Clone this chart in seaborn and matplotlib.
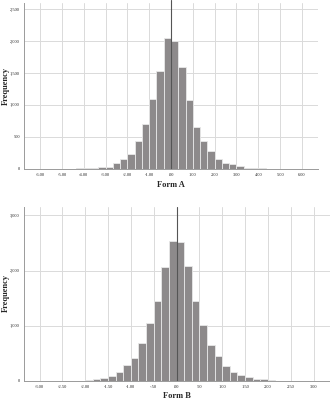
import numpy as np
import pandas as pd
import seaborn as sns
import matplotlib.pyplot as plt
from matplotlib.ticker import FuncFormatter

# Form A: bin width 1/3, counts (centre outward)
a_left = [2046, 1535, 1093, 694, 436, 226, 142, 88, 30, 28, 15, 6, 2]
a_right = [1997, 1587, 1073, 651, 426, 278, 147, 84, 63, 32, 12, 5, 2]
a_width = 1 / 3

# Form B: bin width 1/6
b_left = [2537, 2056, 1452, 1043, 682, 410, 289, 163, 96, 48, 30, 18, 8, 3]
b_right = [2508, 2085, 1447, 1013, 651, 447, 266, 168, 103, 78, 36, 30, 12, 5]
b_width = 1 / 6

a_ticks = [-6, -5, -4, -3, -2, -1, 0, 1, 2, 3, 4, 5, 6]
b_ticks = [-3, -2.5, -2, -1.5, -1, -0.5, 0, 0.5, 1, 1.5, 2, 2.5, 3]


def make_df(left, right, w):
    counts = list(reversed(left)) + list(right)
    n = len(left)
    edges = [(i - n) * w for i in range(len(counts) + 1)]
    centers = [(edges[i] + edges[i + 1]) / 2 for i in range(len(counts))]
    return pd.DataFrame({"x": centers, "n": counts}), edges


def fmt_x(v, pos):
    s = f"{v:.2f}"
    if s.startswith("-0"):
        s = "-" + s[2:]
    elif s.startswith("0"):
        s = s[1:]
    return s


sns.set_theme(style="whitegrid")
plt.rcParams['font.family'] = ['Liberation Serif', 'DejaVu Serif']

fig = plt.figure(figsize=(3.3, 4.0), dpi=100)
ax1 = fig.add_axes([24 / 330, 1 - 168.5 / 400, 294 / 330, 165.5 / 400])
ax2 = fig.add_axes([24 / 330, 1 - 381 / 400, 306 / 330, 174 / 400])

panels = [
    (ax1, a_left, a_right, a_width, a_ticks, (-6.74, 6.74), (0, 2600), [0, 500, 1000, 1500, 2000, 2500]),
    (ax2, b_left, b_right, b_width, b_ticks, (-3.34, 3.36), (0, 3150), [0, 1000, 2000, 3000]),
]

for ax, left, right, w, xt, xl, yl, yt in panels:
    df, edges = make_df(left, right, w)
    sns.histplot(data=df, x="x", weights="n", bins=edges, ax=ax,
                 color="#8d8a8b", edgecolor="#e8e8e8", linewidth=0.6, alpha=1)
    ax.set_xlim(*xl)
    ax.set_ylim(*yl)
    ax.set_xticks(xt)
    ax.set_yticks(yt)
    ax.xaxis.set_major_formatter(FuncFormatter(fmt_x))
    ax.yaxis.set_major_formatter(FuncFormatter(lambda v, p: f"{v:,.0f}"))
    ax.tick_params(labelsize=3.2, length=0, pad=3, colors="#222222")
    ax.grid(True, color="#dadada", linewidth=0.7)
    ax.set_axisbelow(True)
    ax.set_facecolor("white")
    for s in ["top", "right"]:
        ax.spines[s].set_visible(False)
    for s in ["left", "bottom"]:
        ax.spines[s].set_color("#9a9a9a")
        ax.spines[s].set_linewidth(0.7)
    ax.set_xlabel("")
    ax.set_ylabel("")

ax1.axvline(0, ymin=0, ymax=1 + 3 / 165, color="#555555", linewidth=0.8, clip_on=False)
ax2.axvline(0, color="#555555", linewidth=0.8)

# axis titles placed in figure pixels
lab = dict(fontsize=6, fontweight="bold", ha="center", va="center")
fig.text(171 / 330, 1 - 185 / 400, "Form A", **lab)
fig.text(177 / 330, 1 - 395.5 / 400, "Form B", **lab)
fig.text(6 / 330, 1 - 86 / 400, "Frequency", rotation=90, **lab)
fig.text(6 / 330, 1 - 293 / 400, "Frequency", rotation=90, **lab)

fig.savefig("out.png", dpi=100, facecolor="white")
